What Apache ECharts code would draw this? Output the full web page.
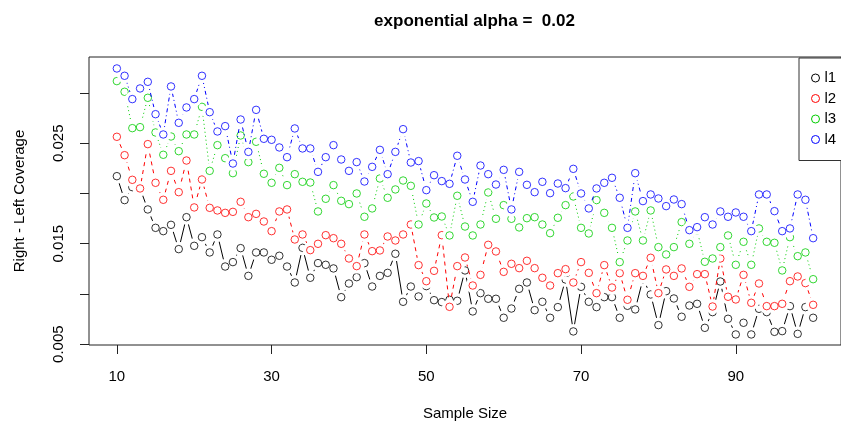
<!DOCTYPE html>
<html>
<head>
<meta charset="utf-8">
<script src="https://cdn.jsdelivr.net/npm/echarts@6/dist/echarts.min.js"></script>
<style>
html,body{margin:0;padding:0;background:#fff;}
#chart{width:841px;height:433px;}
</style>
</head>
<body>
<div id="chart"></div>
<script>
const sampleSize = [10,11,12,13,14,15,16,17,18,19,20,21,22,23,24,25,26,27,28,29,30,31,32,33,34,35,36,37,38,39,40,41,42,43,44,45,46,47,48,49,50,51,52,53,54,55,56,57,58,59,60,61,62,63,64,65,66,67,68,69,70,71,72,73,74,75,76,77,78,79,80,81,82,83,84,85,86,87,88,89,90,91,92,93,94,95,96,97,98,99,100];

const l1 = [0.02172,0.01934,0.02063,0.0205,0.01841,0.01658,0.01625,0.01688,0.01446,0.01764,
0.01479,0.01565,0.01413,0.01592,0.01273,0.01317,0.01456,0.0118,0.01413,0.01413,
0.0134,0.0138,0.01273,0.01114,0.01459,0.01161,0.01307,0.0129,0.01254,0.00968,
0.01104,0.01167,0.01307,0.01074,0.0118,0.0121,0.014,0.00922,0.01074,0.00975,
0.01078,0.00938,0.00919,0.00942,0.00932,0.01234,0.00826,0.01008,0.00952,0.00952,
0.00763,0.00855,0.01051,0.01114,0.00839,0.00922,0.00763,0.00869,0.01144,0.00627,
0.01071,0.00922,0.00869,0.00968,0.00968,0.00763,0.00882,0.00846,0.01147,0.00995,
0.0069,0.01028,0.00955,0.00773,0.00885,0.00902,0.00663,0.00819,0.01124,0.00753,
0.00597,0.00713,0.00597,0.00852,0.00819,0.00623,0.0063,0.00879,0.00603,0.00869,0.00763];

const l2 = [0.02564,0.02381,0.02136,0.0205,0.02491,0.02106,0.01937,0.02225,0.02013,0.02328,
0.01861,0.02139,0.01857,0.01831,0.01807,0.01817,0.01917,0.01764,0.01797,0.01721,
0.01625,0.01821,0.01841,0.01542,0.01592,0.01436,0.01499,0.01585,0.01555,0.01499,
0.01353,0.01277,0.01592,0.01426,0.01433,0.01572,0.01532,0.01592,0.01691,0.01287,
0.01127,0.0123,0.01585,0.00872,0.01277,0.01363,0.01084,0.0119,0.01489,0.01423,
0.0122,0.013,0.01257,0.0133,0.01257,0.01161,0.01084,0.01207,0.01247,0.01114,
0.01317,0.0121,0.01008,0.01287,0.01064,0.01207,0.00942,0.01207,0.0118,0.0136,
0.01008,0.01244,0.0118,0.01254,0.01071,0.01197,0.01197,0.00875,0.01353,0.00972,
0.00945,0.0119,0.00912,0.01104,0.00879,0.00879,0.00902,0.01127,0.01174,0.01108,0.00892];

const l3 = [0.03118,0.03012,0.0265,0.0266,0.02952,0.02607,0.02385,0.02567,0.02421,0.02587,
0.02587,0.02862,0.02225,0.02481,0.02351,0.02202,0.02577,0.02312,0.02514,0.02196,
0.02106,0.02255,0.02083,0.02192,0.02116,0.02109,0.01821,0.01947,0.02083,0.01927,
0.01894,0.02,0.01768,0.01851,0.02149,0.01957,0.0204,0.02129,0.02076,0.01691,
0.019,0.01761,0.01771,0.01582,0.01977,0.01671,0.01582,0.01691,0.0201,0.01748,
0.01884,0.01748,0.01662,0.01754,0.01764,0.01691,0.01605,0.01758,0.01884,0.0197,
0.01658,0.01602,0.01934,0.01807,0.01658,0.01317,0.01532,0.01821,0.01532,0.01831,
0.01466,0.01393,0.01466,0.01715,0.01499,0.01632,0.0132,0.01353,0.01466,0.01582,
0.0129,0.01519,0.0129,0.01652,0.01519,0.01509,0.01234,0.01565,0.01376,0.01413,0.01147];

const l4 = [0.03244,0.03171,0.02939,0.03045,0.03111,0.02789,0.02587,0.03065,0.02703,0.02856,
0.02939,0.03171,0.02809,0.02617,0.0267,0.02298,0.02736,0.02414,0.02832,0.02544,
0.02534,0.02458,0.02361,0.02647,0.02448,0.02448,0.02215,0.02361,0.02481,0.02338,
0.02225,0.02312,0.02119,0.02265,0.02434,0.02192,0.02414,0.0264,0.02308,0.02322,
0.02033,0.02182,0.02123,0.02096,0.02375,0.02139,0.01917,0.02278,0.02192,0.02089,
0.02235,0.01841,0.02215,0.02086,0.02013,0.02116,0.02003,0.02099,0.02053,0.02245,
0.02,0.01851,0.0205,0.02106,0.02156,0.01957,0.01658,0.02202,0.01924,0.0199,
0.0195,0.01874,0.0194,0.01894,0.01635,0.01665,0.01764,0.01691,0.01821,0.01768,
0.01811,0.01768,0.01625,0.0199,0.0199,0.01824,0.01625,0.01652,0.0199,0.01937,0.01555];

const seriesNames = ['l1','l2','l3','l4'];
const xTickValues = [10,30,50,70,90];
const yTickValues = [0.005,0.010,0.015,0.020,0.025,0.030];
const yLabelValues = [0.005,0.015,0.025];
const titleText = 'exponential alpha =  0.02';
const xTitle = 'Sample Size';
const yTitle = 'Right - Left Coverage';

const colors = ['#000000','#FF0000','#00CD00','#0000FF'];
const dashes = ['solid',[4,4],[1,3],[1,3,4,3]];
const FONT = 'Liberation Sans, Arial, sans-serif';

const seriesValues = [l1,l2,l3,l4];
const series = [];
seriesNames.forEach((name,i)=>{
  const pts = sampleSize.map((x,j)=>[x, seriesValues[i][j]]);
  // connecting line (R type = "b")
  series.push({
    name: name, type: 'line', data: pts,
    showSymbol: false, symbol: 'none',
    z: 10 + 3*i,
    lineStyle: {color: colors[i], width: 1, type: dashes[i]},
    emphasis: {disabled: true}, silent: true
  });
  // white gap around points (R type = "b" leaves gaps)
  series.push({
    name: name + '_gap', type: 'scatter', data: pts,
    symbol: 'circle', symbolSize: 15,
    z: 11 + 3*i,
    itemStyle: {color: '#ffffff', opacity: 1},
    emphasis: {disabled: true}, silent: true
  });
  // open circles
  series.push({
    name: name, type: 'scatter', data: pts,
    symbol: 'circle', symbolSize: 7.5,
    z: 12 + 3*i,
    itemStyle: {color: 'rgba(0,0,0,0)', borderColor: colors[i], borderWidth: 1},
    emphasis: {disabled: true}, silent: true
  });
});

const chart = echarts.init(document.getElementById('chart'), null, {renderer:'canvas'});
chart.setOption({
  animation: false,
  backgroundColor: '#ffffff',
  title: {
    text: titleText,
    left: 469.5,
    textAlign: 'center',
    top: 8,
    textStyle: {fontFamily: FONT, fontWeight: 'bold', fontSize: 17, color: '#000'}
  },
  grid: {
    left: 89, right: -9, top: 57, bottom: 88,
    show: true, borderColor: '#222', borderWidth: 1, backgroundColor: 'transparent'
  },
  legend: {
    orient: 'vertical',
    left: 799, top: 58,
    padding: [12, 22, 13, 12],
    itemWidth: 8, itemHeight: 8,
    itemGap: 4.5,
    borderColor: '#333', borderWidth: 1,
    backgroundColor: '#fff',
    z: 50,
    textStyle: {fontFamily: FONT, fontSize: 15, color: '#000', lineHeight: 16},
    data: seriesNames.map((n,i)=>({
      name: n, icon: 'circle',
      itemStyle: {color: 'transparent', borderColor: colors[i], borderWidth: 1}
    }))
  },
  xAxis: {
    type: 'value',
    min: 6.4, max: 103.6,
    splitLine: {show: false},
    axisLine: {show: false},
    axisTick: {show: true, length: 9, lineStyle: {color: '#222'}, customValues: xTickValues},
    axisLabel: {show: true, customValues: xTickValues, margin: 24, fontFamily: FONT, fontSize: 15, color: '#000'},
    name: xTitle,
    nameLocation: 'middle',
    nameGap: 61,
    nameTextStyle: {fontFamily: FONT, fontSize: 15, color: '#000'}
  },
  yAxis: {
    type: 'value',
    min: 0.00492, max: 0.03358,
    splitLine: {show: false},
    axisLine: {show: false},
    axisTick: {show: true, length: 9, lineStyle: {color: '#222'}, customValues: yTickValues},
    axisLabel: {show: true, customValues: yLabelValues, rotate: 90, margin: 23,
      formatter: v => v.toFixed(3), fontFamily: FONT, fontSize: 15, color: '#000'},
    name: yTitle,
    nameLocation: 'middle',
    nameRotate: 90,
    nameGap: 62,
    nameTextStyle: {fontFamily: FONT, fontSize: 15, color: '#000'}
  },
  series: series
});
</script>
</body>
</html>
